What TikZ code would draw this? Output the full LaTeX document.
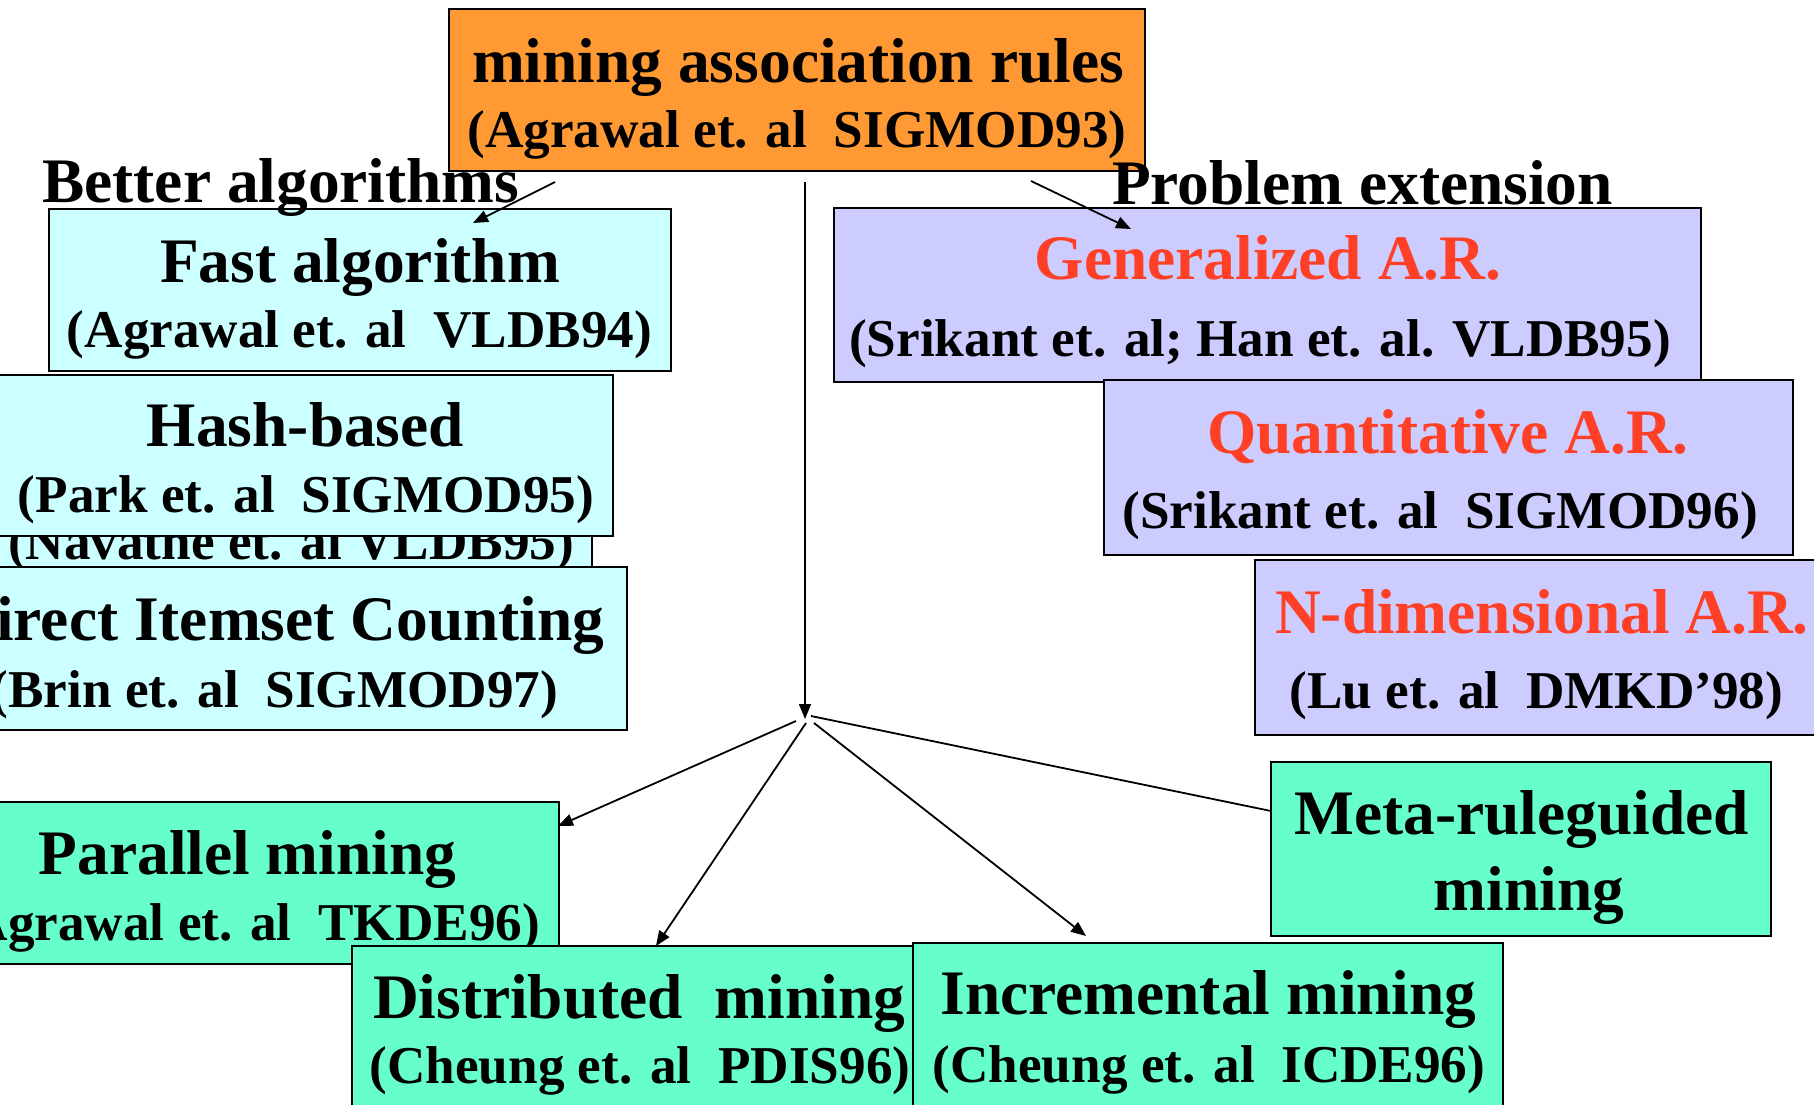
\documentclass[tikz,border=0pt]{standalone}
\usepackage{fontspec}
\setmainfont{Liberation Serif}
\usetikzlibrary{arrows.meta}
\definecolor{orangef}{RGB}{255,153,51}
\definecolor{cyanf}{RGB}{204,255,255}
\definecolor{lavf}{RGB}{204,204,255}
\definecolor{greenf}{RGB}{102,255,204}
\definecolor{redt}{RGB}{255,64,38}
\begin{document}
\begin{tikzpicture}[x=1pt,y=-1pt,
 box/.style={draw=black,line width=2pt,inner sep=0pt,outer sep=0pt,rectangle},
 ttl/.style={font=\bfseries\fontsize{63.4}{70}\selectfont,anchor=base,inner sep=0pt},
 sub/.style={font=\bfseries\fontsize{53.2}{60}\selectfont,anchor=base,inner sep=0pt},
 arr/.style={-{Triangle[length=15pt,width=12pt]},line width=1.8pt},
 con/.style={line width=1.8pt}]
\useasboundingbox (0,0) rectangle (1814,1104);
\fill[white] (0,0) rectangle (1814,1104);
\clip (0,0) rectangle (1814,1104);

% left column
\node[box,fill=cyanf,minimum width=602pt,minimum height=170pt] (nav) at (291,490) {};
\node[sub] (navs) at (291,559) {(Navathe et. al VLDB95)};
\node[box,fill=cyanf,minimum width=614pt,minimum height=161pt] (hash) at (306,455.5) {};
\node[ttl] (hasht) at (305.5,446) {Hash-based};
\node[sub] (hashs) at (306,512) {(Park et. al~~SIGMOD95)};
\node[box,fill=cyanf,minimum width=702pt,minimum height=163pt] (dic) at (276,648.5) {};
\node[ttl] (dict) at (277.5,640) {Direct Itemset Counting};
\node[sub] (dics) at (274.5,707) {(Brin et. al~~SIGMOD97)};
\node[box,fill=cyanf,minimum width=622pt,minimum height=162pt] (fast) at (360,290) {};
\node[ttl] (fastt) at (360,282) {Fast algorithm};
\node[sub] (fasts) at (359.5,347) {(Agrawal et. al~~VLDB94)};

% root
\node[box,fill=orangef,minimum width=696pt,minimum height=162pt] (root) at (797,90) {};
\node[ttl] (roott) at (798,82) {mining association rules};
\node[sub] (roots) at (797,147) {(Agrawal et. al~~SIGMOD93)};

% right column
\node[box,fill=lavf,minimum width=867pt,minimum height=174pt] (gen) at (1267.5,295) {};
\node[ttl,text=redt] (gent) at (1268,279) {Generalized A.R.};
\node[sub] (gens) at (1260,356) {(Srikant et. al; Han et. al. VLDB95)};
\node[box,fill=lavf,minimum width=689pt,minimum height=175pt] (quant) at (1448.5,467.5) {};
\node[ttl,text=redt] (quantt) at (1447.5,453) {Quantitative A.R.};
\node[sub] (quants) at (1440,528) {(Srikant et. al~~SIGMOD96)};
\node[box,fill=lavf,minimum width=570pt,minimum height=175pt] (ndim) at (1540,647.5) {};
\node[ttl,text=redt] (ndimt) at (1542,633) {N-dimensional A.R.};
\node[sub] (ndims) at (1536.5,708) {(Lu et. al~~DMKD’98)};

% group labels
\node[ttl,anchor=base west] (better) at (42,202) {Better algorithms};
\node[ttl,anchor=base west] (problem) at (1112,204) {Problem extension};

% bottom row
\node[box,fill=greenf,minimum width=624pt,minimum height=162pt] (par) at (247,883) {};
\node[ttl] (part) at (247.5,874) {Parallel mining};
\node[sub] (pars) at (246,940) {(Agrawal et. al~~TKDE96)};
\node[box,fill=greenf,minimum width=562pt,minimum height=170pt] (dist) at (633,1031) {};
\node[ttl] (distt) at (639,1018) {Distributed~~mining};
\node[sub] (dists) at (640,1083) {(Cheung et. al~~PDIS96)};
\node[box,fill=greenf,minimum width=590pt,minimum height=174pt] (inc) at (1208,1030) {};
\node[ttl] (inct) at (1208.5,1014) {Incremental mining};
\node[sub] (incs) at (1209,1082) {(Cheung et. al~~ICDE96)};
\node[box,fill=greenf,minimum width=500pt,minimum height=174pt] (meta) at (1521,849) {};
\node[ttl] (metat) at (1521.5,834) {Meta-ruleguided};
\node[ttl] (metat2) at (1529,910) {mining};

% connector end points
\coordinate (rootL) at (555,182);
\coordinate (fastIn) at (473,223);
\coordinate (rootR) at (1031,181);
\coordinate (genIn) at (1131,229);
\coordinate (rootC) at (805,182);
\coordinate (hub) at (805,719);
\coordinate (hubA) at (796,721);
\coordinate (hubB) at (806,723);
\coordinate (hubC) at (814,723);
\coordinate (hubD) at (811,716);
\coordinate (parIn) at (558,826);
\coordinate (distIn) at (656,946);
\coordinate (incIn) at (1086,936);
\coordinate (metaIn) at (1271,811);

\draw[arr] (rootL) -- (fastIn);
\draw[arr] (rootR) -- (genIn);
\draw[arr] (rootC) -- (hub);
\draw[arr] (hubA) -- (parIn);
\draw[arr] (hubB) -- (distIn);
\draw[arr] (hubC) -- (incIn);
\draw[con] (hubD) -- (metaIn);
\end{tikzpicture}
\end{document}
